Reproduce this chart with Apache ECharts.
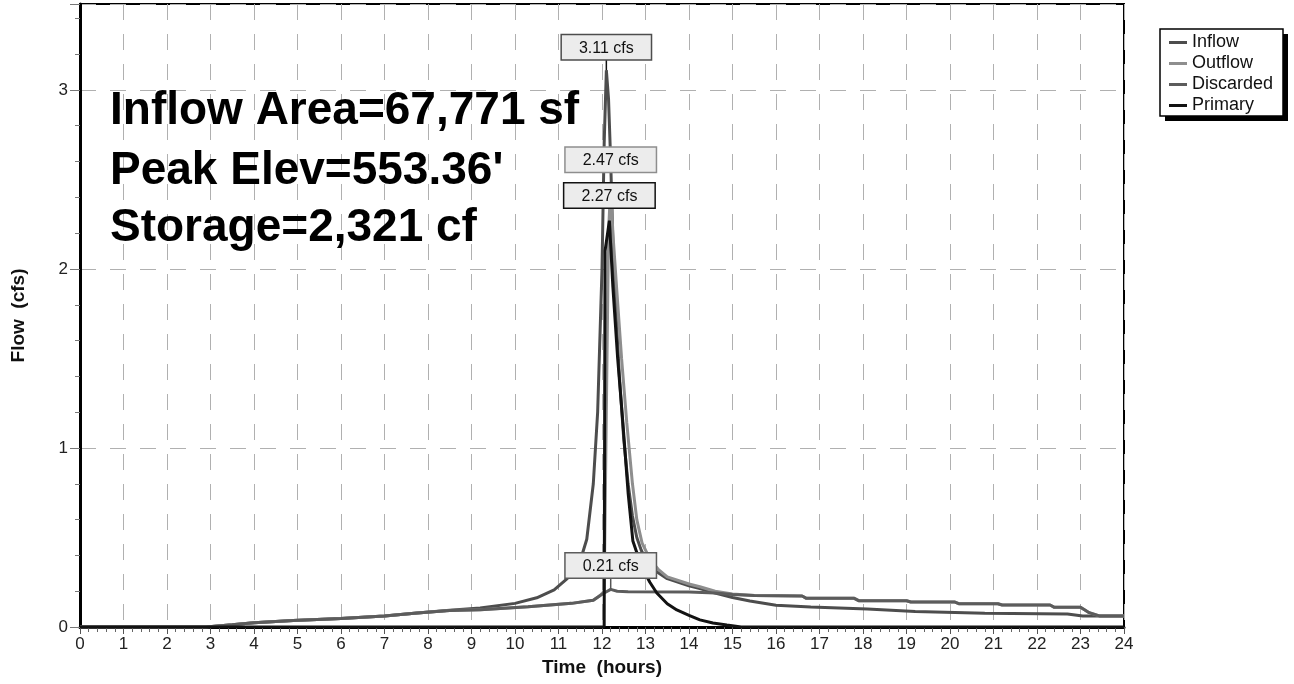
<!DOCTYPE html>
<html>
<head>
<meta charset="utf-8">
<script src="https://cdn.jsdelivr.net/npm/echarts@6/dist/echarts.min.js"></script>
<style>
  html, body { margin: 0; padding: 0; background: #fff; }
  #chart { width: 1294px; height: 684px; }
</style>
</head>
<body>
<div id="chart"></div>
<script>
// Pond routing hydrographs: time (hours) vs flow (cfs)
const seriesNames = ['Inflow', 'Outflow', 'Discarded', 'Primary'];
const seriesColors = ['#4d4d4d', '#8e8e8e', '#5c5c5c', '#121212'];

const inflow = [
  [0, 0], [2.9, 0], [3.5, 0.012], [4, 0.024], [4.9, 0.036], [6, 0.048], [7, 0.062],
  [7.75, 0.078], [8.5, 0.094], [9.2, 0.106], [10, 0.132], [10.5, 0.163], [10.9, 0.207],
  [11.2, 0.27], [11.5, 0.37], [11.65, 0.49], [11.8, 0.8], [11.9, 1.2], [12.0, 2.0],
  [12.05, 2.7], [12.1, 3.11], [12.15, 2.95], [12.2, 2.6], [12.25, 2.15], [12.3, 1.85],
  [12.4, 1.4], [12.5, 1.05], [12.6, 0.8], [12.7, 0.62], [12.8, 0.5], [12.9, 0.43],
  [13.0, 0.38], [13.25, 0.31], [13.5, 0.27], [14.0, 0.23], [14.25, 0.215], [14.6, 0.19],
  [15, 0.165], [15.4, 0.145], [16, 0.122], [16.8, 0.112], [18.1, 0.1], [19.2, 0.086],
  [20.8, 0.077], [22.7, 0.073], [23.05, 0.061], [24, 0.061]
];

const outflow = [
  [0, 0], [2.9, 0], [3.5, 0.012], [4, 0.024], [4.9, 0.036], [6, 0.048], [7, 0.062],
  [7.75, 0.078], [8.5, 0.092], [9.2, 0.097], [10.3, 0.113], [11.3, 0.132], [11.8, 0.15],
  [11.95, 0.175], [12.05, 0.2], [12.1, 1.2], [12.15, 2.2], [12.2, 2.47], [12.25, 2.2],
  [12.34, 1.88], [12.45, 1.5], [12.57, 1.14], [12.7, 0.8], [12.8, 0.6], [12.92, 0.47],
  [13.1, 0.38], [13.3, 0.32], [13.5, 0.28], [14, 0.24], [14.25, 0.225], [14.6, 0.2],
  [15, 0.185], [15.5, 0.176], [16.6, 0.173], [16.7, 0.16], [17.8, 0.16], [17.9, 0.147],
  [19, 0.147], [19.1, 0.14], [20.1, 0.14], [20.2, 0.13], [21.1, 0.13], [21.2, 0.123],
  [22.3, 0.123], [22.4, 0.11], [23, 0.11], [23.2, 0.08], [23.45, 0.061], [24, 0.061]
];

const discarded = [
  [0, 0], [2.9, 0], [3.5, 0.012], [4, 0.024], [4.9, 0.036], [6, 0.048], [7, 0.062],
  [7.75, 0.078], [8.5, 0.092], [9.2, 0.097], [10.3, 0.113], [11.3, 0.132], [11.8, 0.15],
  [11.95, 0.175], [12.05, 0.19], [12.2, 0.21], [12.35, 0.2], [12.6, 0.197], [14, 0.195],
  [14.6, 0.19], [15, 0.182], [15.5, 0.176], [16.6, 0.173], [16.7, 0.16], [17.8, 0.16],
  [17.9, 0.147], [19, 0.147], [19.1, 0.14], [20.1, 0.14], [20.2, 0.13], [21.1, 0.13],
  [21.2, 0.123], [22.3, 0.123], [22.4, 0.11], [23, 0.11], [23.2, 0.08], [23.45, 0.061],
  [24, 0.061]
];

const primary = [
  [0, 0], [12.05, 0], [12.07, 2.1], [12.17, 2.27], [12.25, 1.9], [12.36, 1.5],
  [12.48, 1.14], [12.6, 0.75], [12.71, 0.48], [12.85, 0.38], [12.95, 0.32], [13.1, 0.25],
  [13.26, 0.19], [13.5, 0.13], [13.72, 0.095], [14, 0.065], [14.25, 0.04], [14.55, 0.022],
  [14.87, 0.011], [15.2, 0], [24, 0]
];

const seriesData = [inflow, outflow, discarded, primary];

// Peak callouts: stem length and stem colour per series
const peakStem = [11, 13, 12, 13];
const peakStemColor = ['#111', 'rgba(0,0,0,0)', '#555', 'rgba(0,0,0,0)'];

const notes = ['Inflow Area=67,771 sf', "Peak Elev=553.36'", 'Storage=2,321 cf'];
const noteY = [115, 175, 232];

const FONT = '"Liberation Sans", Arial, sans-serif';

const chart = echarts.init(document.getElementById('chart'), null, { renderer: 'canvas' });

const series = seriesNames.map((name, i) => ({
  name,
  type: 'line',
  data: seriesData[i],
  showSymbol: false,
  symbol: 'none',
  smooth: false,
  lineStyle: { color: seriesColors[i], width: 3 },
  itemStyle: { color: seriesColors[i] },
  z: 2 + i,
  markPoint: {
    symbol: 'rect',
    symbolSize: [1.5, peakStem[i]],
    symbolOffset: [0, -peakStem[i] / 2],
    itemStyle: { color: peakStemColor[i] },
    z: 10,
    label: {
      show: true,
      position: 'top',
      distance: 0,
      formatter: p => p.value.toFixed(2) + ' cfs',
      backgroundColor: '#ececec',
      borderColor: seriesColors[i],
      borderWidth: 1.5,
      padding: [4, 17, 2, 17],
      fontSize: 16,
      lineHeight: 18,
      color: '#111',
      fontFamily: FONT
    },
    data: [{ type: 'max' }]
  }
}));

// Legend frame with a solid drop shadow
const legendBox = { x: 1160, y: 29, w: 123, h: 87 };

const option = {
  backgroundColor: '#fff',
  animation: false,
  grid: {
    left: 80, right: 170, top: 4, bottom: 57,
    show: true, borderColor: '#000', borderWidth: 2, backgroundColor: '#fff'
  },
  legend: {
    orient: 'vertical',
    left: legendBox.x + 4, top: legendBox.y + 4,
    data: seriesNames,
    icon: 'rect',
    itemWidth: 18, itemHeight: 3, itemGap: 2,
    padding: [0, 0, 0, 5],
    backgroundColor: 'transparent',
    borderWidth: 0,
    z: 30,
    textStyle: { fontSize: 18, lineHeight: 19, color: '#111', fontFamily: FONT }
  },
  xAxis: {
    type: 'value', min: 0, max: 24, interval: 1,
    name: 'Time  (hours)', nameLocation: 'middle', nameGap: 30,
    nameTextStyle: { fontWeight: 'bold', fontSize: 19, color: '#111', fontFamily: FONT },
    axisLine: { show: true, lineStyle: { color: '#000', width: 3 } },
    axisTick: { show: true, length: 7, lineStyle: { color: '#555' } },
    minorTick: { show: true, splitNumber: 5, length: 5, lineStyle: { color: '#666' } },
    axisLabel: { fontSize: 17, color: '#222', margin: 9, fontFamily: FONT },
    splitLine: { show: true, lineStyle: { color: '#b0b0b0', width: 1, type: [16, 14] } }
  },
  yAxis: {
    type: 'value', min: 0, max: 3.48, interval: 1,
    name: 'Flow  (cfs)', nameLocation: 'middle', nameGap: 52,
    nameTextStyle: { fontWeight: 'bold', fontSize: 19, color: '#111', fontFamily: FONT },
    axisLine: { show: true, lineStyle: { color: '#000', width: 3 } },
    axisTick: { show: true, length: 10, lineStyle: { color: '#777' } },
    minorTick: { show: true, splitNumber: 5, length: 5, lineStyle: { color: '#777' } },
    axisLabel: {
      fontSize: 17, color: '#222', margin: 12, fontFamily: FONT, showMaxLabel: false,
      formatter: v => (Number.isInteger(v) ? String(v) : '')
    },
    splitLine: { show: true, lineStyle: { color: '#b0b0b0', width: 1, type: [16, 14] } }
  },
  graphic: [
    {
      type: 'rect', z: 25, silent: true,
      shape: { x: legendBox.x + 5, y: legendBox.y + 5, width: legendBox.w, height: legendBox.h },
      style: { fill: '#000' }
    },
    {
      type: 'rect', z: 26, silent: true,
      shape: { x: legendBox.x, y: legendBox.y, width: legendBox.w, height: legendBox.h },
      style: { fill: '#fff', stroke: '#000', lineWidth: 1.5 }
    }
  ].concat(notes.map((t, i) => ({
    type: 'text',
    left: 110,
    top: noteY[i] - 27,
    z: 20,
    style: {
      text: t,
      fill: '#000',
      font: 'bold 46px ' + FONT
    }
  }))),
  series
};

chart.setOption(option);
</script>
</body>
</html>
